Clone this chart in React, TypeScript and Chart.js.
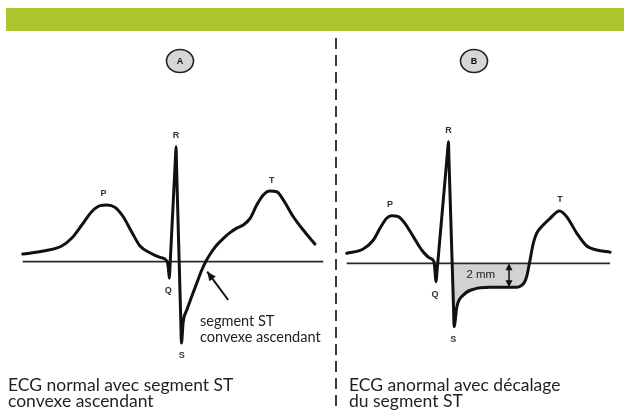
import React, { useEffect, useRef } from 'react';
import { Chart, registerables } from 'chart.js';

Chart.register(...registerables);

// ---------- Panel A : normal ECG (time in ms, amplitude in mm) ----------
const timeA = [0, 69, 130, 163, 197, 230, 258, 280, 308, 335, 363, 391, 424, 458, 480, 485, 489, 491, 500, 509, 511, 513, 520, 527, 529, 535, 547, 563, 580, 597, 613, 630, 647, 669, 691, 713, 735, 758, 780, 802, 824, 847, 869, 902, 935, 974];
const ampA = [0.64, 0.89, 1.31, 1.95, 3.06, 4.17, 4.67, 4.73, 4.53, 3.75, 2.5, 1.31, 0.75, 0.36, 0.08, -0.42, -1.38, -0.38, 4.1, 8.58, 9.58, 7.76, 1.4, -4.96, -6.78, -5.0, -4.03, -2.92, -1.8, -0.69, 0.14, 0.83, 1.39, 1.95, 2.42, 2.8, 3.06, 3.61, 4.72, 5.56, 5.89, 5.83, 5.14, 3.75, 2.64, 1.47];
const baselineA = [0, 1002];
const waveNames = ['P', 'Q', 'R', 'S', 'T'];
const waveTimeA = [269, 485, 511, 530, 830];
const waveAmpA = [4.73, -1.38, 9.58, -6.78, 5.89];
const arrowTimeA = [685, 615];
const arrowAmpA = [-3.19, -0.83];
const noteA = ['segment ST', 'convexe ascendant'];
const captionA = ['ECG normal avec segment ST', 'convexe ascendant'];

// ---------- Panel B : abnormal ECG, ST depression ----------
const timeB = [0, 55, 89, 111, 133, 150, 172, 194, 222, 250, 278, 291, 298, 301, 318, 336, 339, 341, 349, 351.5, 356, 358, 367, 389, 422, 478, 567, 580, 592, 601, 609, 622, 633, 655, 678, 709, 733, 767, 800, 833, 878];
const ampB = [0.83, 1.19, 1.94, 2.92, 3.75, 3.97, 3.89, 3.33, 2.22, 1.11, 0.42, 0.13, -1.53, -0.68, 4.16, 9.28, 10.13, 8.51, 2.02, 0, -3.66, -5.28, -3.64, -2.64, -2.17, -2.0, -2.0, -1.9, -1.6, -1.0, 0, 1.67, 2.5, 3.19, 3.75, 4.36, 3.89, 2.5, 1.44, 1.11, 0.92];
const baselineB = [0, 878];
const waveTimeB = [144, 294, 339, 355, 711];
const waveAmpB = [3.97, -1.53, 10.13, -5.28, 4.36];
const stStart = 351.5;
const stEnd = 609;
const stDepth = -2;
const stArrowTime = 541;
const stLabel = '2 mm';
const stLabelTime = 447;
const captionB = ['ECG anormal avec décalage', 'du segment ST'];

const CAPTION_FONT = '17.5px Lato';
const NOTE_FONT = '14.5px Lato';
const WAVE_FONT = 'bold 9px "Liberation Sans"';

function arrowHead(ctx: CanvasRenderingContext2D, x1: number, y1: number, x2: number, y2: number, len: number, half: number) {
  const ang = Math.atan2(y2 - y1, x2 - x1);
  const c = Math.cos(ang);
  const s = Math.sin(ang);
  ctx.beginPath();
  ctx.moveTo(x2, y2);
  ctx.lineTo(x2 - len * c + half * s, y2 - len * s - half * c);
  ctx.lineTo(x2 - len * c - half * s, y2 - len * s + half * c);
  ctx.closePath();
  ctx.fill();
}

const decoPlugin = {
  id: 'deco',
  beforeDatasetsDraw(chart: any) {
    const ctx: CanvasRenderingContext2D = chart.ctx;
    ctx.save();
    // green header band
    ctx.fillStyle = '#adc42c';
    ctx.fillRect(6, 8, 618, 23);
    // dashed divider
    ctx.strokeStyle = '#3a3a3a';
    ctx.lineWidth = 2;
    ctx.setLineDash([11, 6]);
    ctx.beginPath();
    ctx.moveTo(336, 38);
    ctx.lineTo(336, 411);
    ctx.stroke();
    ctx.setLineDash([]);
    // panel badges
    const badges: [number, string][] = [[180, 'A'], [474, 'B']];
    for (const [cx, letter] of badges) {
      ctx.beginPath();
      ctx.ellipse(cx, 61, 13.5, 11.5, 0, 0, Math.PI * 2);
      ctx.fillStyle = '#d6d6d6';
      ctx.fill();
      ctx.lineWidth = 1.6;
      ctx.strokeStyle = '#222';
      ctx.stroke();
      ctx.fillStyle = '#111';
      ctx.font = 'bold 9px "Liberation Sans"';
      ctx.textAlign = 'center';
      ctx.textBaseline = 'middle';
      ctx.fillText(letter, cx, 61.5);
    }
    ctx.restore();
  },
  afterDatasetsDraw(chart: any) {
    const ctx: CanvasRenderingContext2D = chart.ctx;
    const { xA, yA, xB, yB } = chart.scales;
    ctx.save();
    ctx.fillStyle = '#333';
    ctx.font = WAVE_FONT;
    ctx.textAlign = 'center';
    ctx.textBaseline = 'middle';
    const drawWaves = (xs: any, ys: any, times: number[], amps: number[]) => {
      waveNames.forEach((n, i) => {
        const px = xs.getPixelForValue(times[i]);
        const py = ys.getPixelForValue(amps[i]);
        ctx.fillText(n, px, amps[i] >= 0 ? py - 11 : py + 12.5);
      });
    };
    drawWaves(xA, yA, waveTimeA, waveAmpA);
    drawWaves(xB, yB, waveTimeB, waveAmpB);

    // arrow head in panel A
    ctx.fillStyle = '#111';
    arrowHead(ctx,
      xA.getPixelForValue(arrowTimeA[0]), yA.getPixelForValue(arrowAmpA[0]),
      xA.getPixelForValue(arrowTimeA[1]), yA.getPixelForValue(arrowAmpA[1]), 9, 4);

    // ST double arrow in panel B
    const ax = xB.getPixelForValue(stArrowTime);
    const ay0 = yB.getPixelForValue(0);
    const ay1 = yB.getPixelForValue(stDepth);
    ctx.strokeStyle = '#111';
    ctx.lineWidth = 1.5;
    ctx.beginPath();
    ctx.moveTo(ax, ay0 + 4);
    ctx.lineTo(ax, ay1 - 4);
    ctx.stroke();
    arrowHead(ctx, ax, ay0 + 12, ax, ay0, 7, 3.5);
    arrowHead(ctx, ax, ay1 - 12, ax, ay1, 7, 3.5);
    ctx.fillStyle = '#222';
    ctx.font = '11.5px "Liberation Sans"';
    ctx.fillText(stLabel, xB.getPixelForValue(stLabelTime), yB.getPixelForValue(stDepth / 2));

    // note in panel A
    ctx.textAlign = 'left';
    ctx.textBaseline = 'alphabetic';
    ctx.fillStyle = '#222';
    ctx.font = NOTE_FONT;
    ctx.fillText(noteA[0], 200, 326);
    ctx.fillText(noteA[1], 200, 341.5);

    // captions
    ctx.font = CAPTION_FONT;
    ctx.fillStyle = '#231f20';
    ctx.fillText(captionA[0], 8, 390.5);
    ctx.fillText(captionA[1], 8, 406.5);
    ctx.fillText(captionB[0], 349, 390.5);
    ctx.fillText(captionB[1], 349, 406.5);
    ctx.restore();
  },
};

export default function App() {
  const ref = useRef<HTMLCanvasElement | null>(null);
  useEffect(() => {
    if (!ref.current) return;
    const pts = (t: number[], a: number[]) => t.map((v, i) => ({ x: v, y: a[i] }));
    const stPts = pts(timeB, ampB).filter(p => p.x >= stStart && p.x <= stEnd);
    const line = {
      showLine: true,
      pointRadius: 0,
      borderColor: '#111',
      borderWidth: 3,
      borderJoinStyle: 'round',
      borderCapStyle: 'round',
      cubicInterpolationMode: 'monotone',
      fill: false,
    };
    const base = { showLine: true, pointRadius: 0, borderColor: '#2a2a2a', borderWidth: 1.8, fill: false };
    const chart = new Chart(ref.current, {
      type: 'scatter',
      data: {
        datasets: [
          { ...line, label: 'A', data: pts(timeA, ampA), xAxisID: 'xA', yAxisID: 'yA', order: 0 } as any,
          { ...line, label: 'B', data: pts(timeB, ampB), xAxisID: 'xB', yAxisID: 'yB', order: 0 } as any,
          { ...base, label: 'baseA', data: baselineA.map(x => ({ x, y: 0 })), xAxisID: 'xA', yAxisID: 'yA', order: 1 } as any,
          { ...base, label: 'baseB', data: baselineB.map(x => ({ x, y: 0 })), xAxisID: 'xB', yAxisID: 'yB', order: 1 } as any,
          { showLine: true, pointRadius: 0, borderColor: '#111', borderWidth: 2, label: 'arrowA', data: pts(arrowTimeA, arrowAmpA), xAxisID: 'xA', yAxisID: 'yA', order: 0 } as any,
          {
            label: 'ST', data: stPts, xAxisID: 'xB', yAxisID: 'yB', order: 2,
            showLine: true, pointRadius: 0, borderWidth: 0, borderColor: 'rgba(0,0,0,0)',
            backgroundColor: '#d2d2d2', fill: 'origin', cubicInterpolationMode: 'monotone',
          } as any,
        ],
      },
      options: {
        animation: false,
        responsive: false,
        events: [],
        layout: { padding: 0 },
        plugins: { legend: { display: false }, tooltip: { enabled: false }, title: { display: false } },
        scales: {
          xA: { type: 'linear', display: false, min: -75.7, max: 2004.3 },
          yA: { type: 'linear', display: false, min: -12.44, max: 21.81 },
          xB: { type: 'linear', display: false, min: -1155.7, max: 924.3 },
          yB: { type: 'linear', display: false, min: -12.31, max: 21.94 },
        },
      } as any,
      plugins: [decoPlugin as any],
    });
    return () => chart.destroy();
  }, []);
  return (
    <div style={{ position: 'absolute', left: 0, top: 0, width: 624, height: 411, background: '#fff' }}>
      <canvas ref={ref} width={624} height={411} style={{ display: 'block' }} />
    </div>
  );
}
